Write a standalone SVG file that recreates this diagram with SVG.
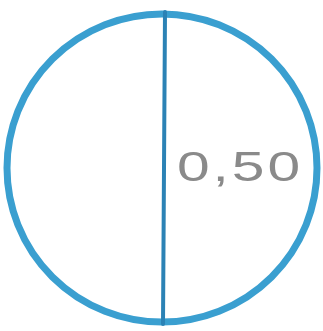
<svg xmlns="http://www.w3.org/2000/svg" width="323" height="331" viewBox="0 0 323 331">
<style>
.circ{fill:none;stroke:#3a9fd0;stroke-width:7}
.diam{fill:none;stroke:#2b82b5;stroke-width:4;stroke-linecap:round}
.lbl{font-family:"Liberation Sans",Arial,sans-serif;font-size:42px;fill:#8a8a8a}
</style>
<rect width="323" height="331" fill="#ffffff"/>
<g id="circle">
<ellipse class="circ" cx="162" cy="168" rx="155" ry="154"/>
</g>
<g id="connectors">
<path class="diam" d="M165 12 L163 324"/>
</g>
<g id="label">
<text class="lbl" transform="translate(177 181) scale(1.4 1)" x="0" y="0" textLength="88" lengthAdjust="spacing">0,50</text>
</g>
</svg>
